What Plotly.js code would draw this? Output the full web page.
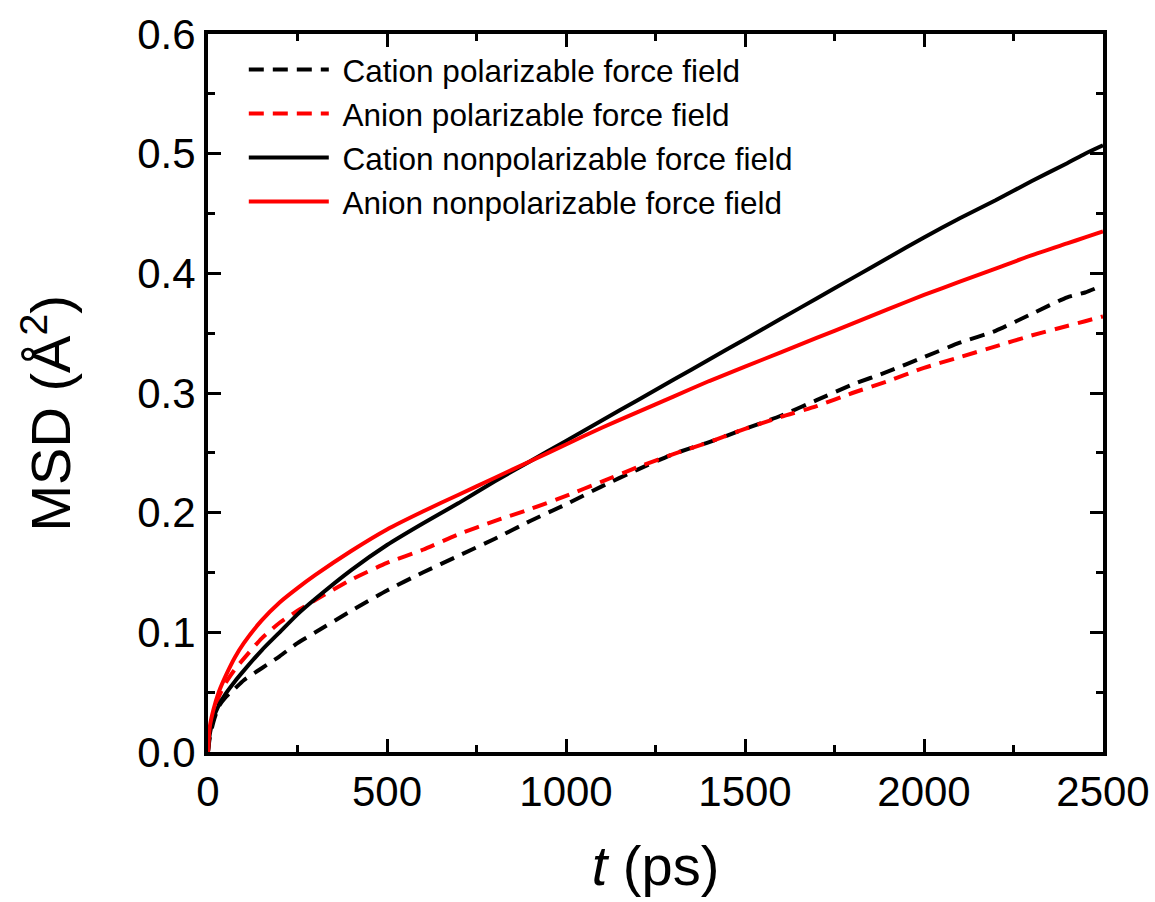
<!DOCTYPE html>
<html>
<head>
<meta charset="utf-8">
<script src="https://cdn.plot.ly/plotly-3.0.1.min.js"></script>
<style>html,body{margin:0;padding:0;background:#fff;}#chart{width:1155px;height:902px;}</style>
</head>
<body>
<div id="chart"></div>
<script>
// time (ps)
const t = [0, 5, 15, 30, 50, 75, 100, 150, 200, 250, 300, 400, 500, 600, 700, 800, 900, 1000, 1100, 1200, 1300, 1400, 1500, 1600, 1700, 1800, 1900, 2000, 2100, 2200, 2300, 2400, 2450, 2500];

const cationPolar = [0, 0.012, 0.025, 0.038, 0.046, 0.053, 0.060, 0.070, 0.080, 0.091, 0.100, 0.118, 0.135, 0.150, 0.164, 0.178, 0.193, 0.207, 0.222, 0.236, 0.249, 0.259, 0.270, 0.281, 0.294, 0.307, 0.318, 0.330, 0.342, 0.352, 0.366, 0.380, 0.384, 0.390];

const anionPolar = [0, 0.016, 0.031, 0.046, 0.058, 0.069, 0.078, 0.095, 0.108, 0.118, 0.127, 0.144, 0.158, 0.169, 0.182, 0.193, 0.203, 0.214, 0.226, 0.238, 0.249, 0.259, 0.270, 0.280, 0.289, 0.300, 0.310, 0.321, 0.330, 0.339, 0.348, 0.356, 0.360, 0.364];

const cationNonpolar = [0, 0.015, 0.028, 0.039, 0.049, 0.059, 0.068, 0.085, 0.100, 0.115, 0.128, 0.152, 0.173, 0.191, 0.208, 0.226, 0.243, 0.260, 0.277, 0.294, 0.311, 0.328, 0.345, 0.362, 0.379, 0.396, 0.413, 0.430, 0.446, 0.461, 0.477, 0.492, 0.500, 0.507];

const anionNonpolar = [0, 0.021, 0.035, 0.050, 0.064, 0.079, 0.091, 0.110, 0.125, 0.137, 0.148, 0.168, 0.186, 0.201, 0.215, 0.229, 0.243, 0.257, 0.271, 0.284, 0.297, 0.310, 0.322, 0.334, 0.346, 0.358, 0.370, 0.382, 0.393, 0.404, 0.415, 0.425, 0.430, 0.435];

const names = ["Cation polarizable force field", "Anion polarizable force field", "Cation nonpolarizable force field", "Anion nonpolarizable force field"];
const colors = ["#000000", "#ff0000", "#000000", "#ff0000"];
const dashes = ["15px,9px", "15px,9px", "solid", "solid"];
const series = [cationPolar, anionPolar, cationNonpolar, anionNonpolar];

const traces = series.map((ys, i) => ({
  x: t, y: ys, type: "scatter", mode: "lines", name: "\u00a0" + names[i],
  line: {color: colors[i], width: 4, dash: dashes[i], shape: "spline", smoothing: 0.6}
}));

const font = "Liberation Sans, Arial, sans-serif";
const layout = {
  width: 1155, height: 902,
  margin: {l: 208, r: 52, t: 34, b: 150},
  paper_bgcolor: "#fff", plot_bgcolor: "#fff",
  font: {family: font, color: "#000", size: 42},
  showlegend: true,
  legend: {
    x: 0.04, y: 0.988, xanchor: "left", yanchor: "top",
    bgcolor: "rgba(0,0,0,0)", borderwidth: 0,
    font: {family: font, size: 31.5, color: "#000"},
    itemwidth: 80, tracegroupgap: 0
  },
  xaxis: {
    range: [0, 2500], dtick: 500, tick0: 0,
    showgrid: false, zeroline: false,
    showline: true, linecolor: "#000", linewidth: 4, mirror: "ticks",
    ticks: "inside", ticklen: 13, tickwidth: 3, tickcolor: "#000",
    tickfont: {family: font, size: 42, color: "#000"},
    minor: {dtick: 250, ticks: "inside", ticklen: 7, tickwidth: 3, tickcolor: "#000", showgrid: false},
    title: {text: "<i>t</i> (ps)", font: {family: font, size: 56, color: "#000"}, standoff: 32}
  },
  yaxis: {
    range: [0, 0.6], dtick: 0.1, tick0: 0, tickformat: ".1f",
    showgrid: false, zeroline: false,
    showline: true, linecolor: "#000", linewidth: 4, mirror: "ticks",
    ticks: "inside", ticklen: 13, tickwidth: 3, tickcolor: "#000",
    tickfont: {family: font, size: 42, color: "#000"},
    minor: {dtick: 0.05, ticks: "inside", ticklen: 7, tickwidth: 3, tickcolor: "#000", showgrid: false}
  },
  annotations: [{
    text: "MSD (Å<sup>2</sup>)", textangle: -90,
    xref: "paper", yref: "paper", x: -0.179, y: 0.471,
    xanchor: "center", yanchor: "middle", showarrow: false,
    font: {family: font, size: 56, color: "#000"}
  }]
};

Plotly.newPlot("chart", traces, layout, {displayModeBar: false, staticPlot: true});
</script>
</body>
</html>
